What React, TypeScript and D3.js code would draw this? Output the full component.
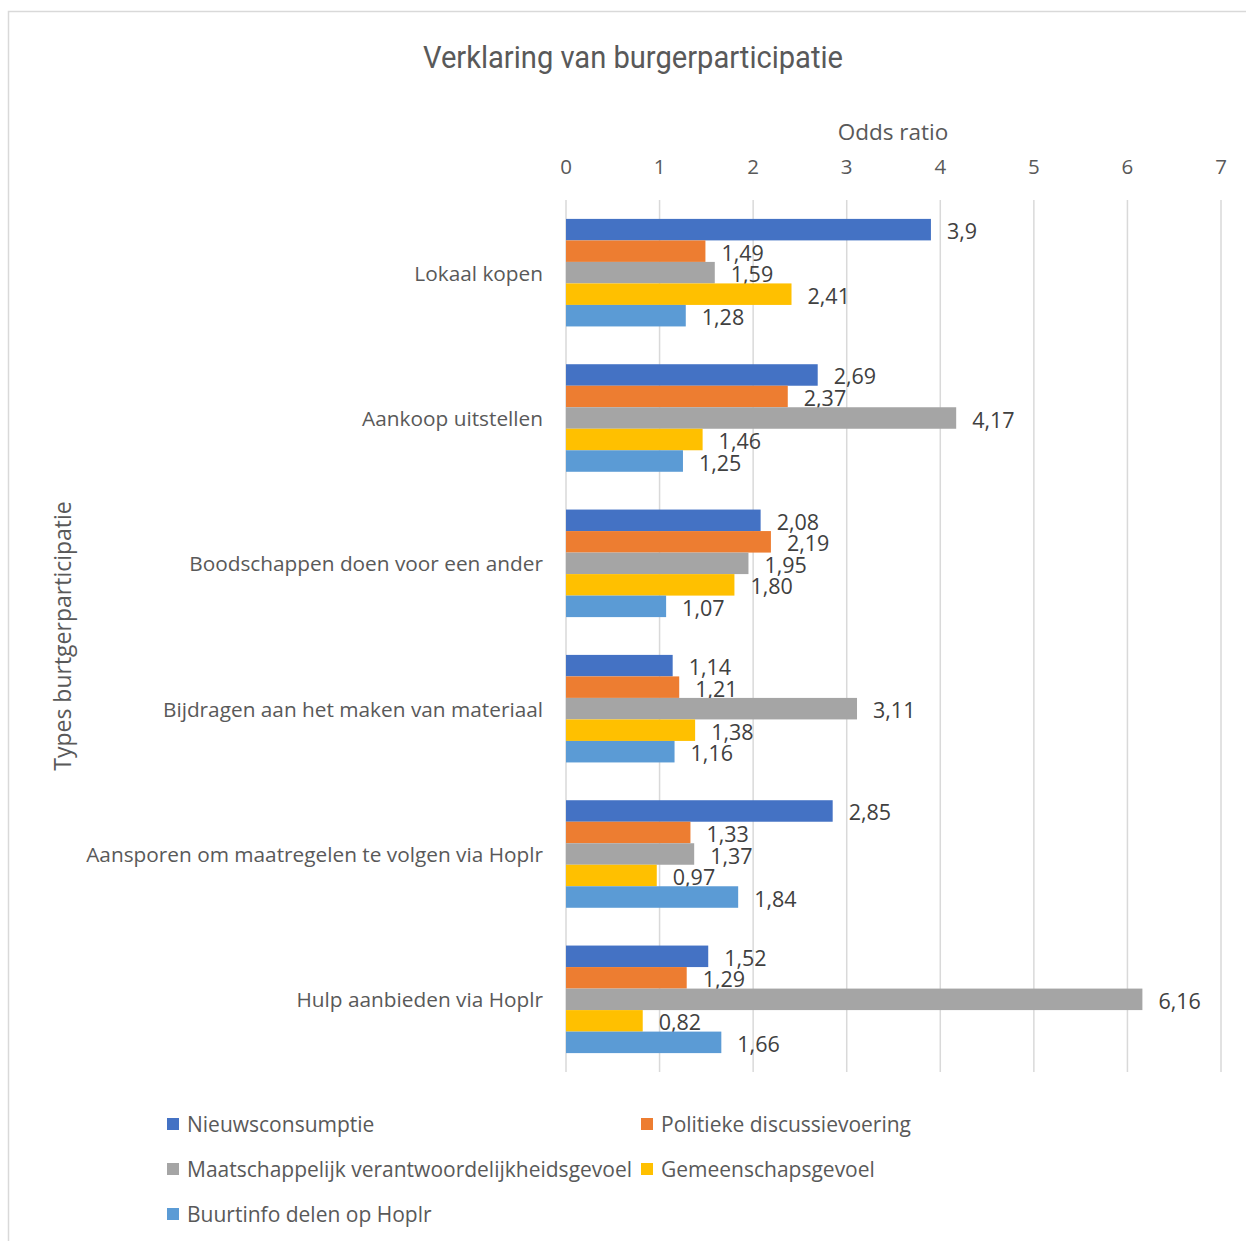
import React from "react";
import * as d3 from "d3";

const categories = [
  "Lokaal kopen",
  "Aankoop uitstellen",
  "Boodschappen doen voor een ander",
  "Bijdragen aan het maken van materiaal",
  "Aansporen om maatregelen te volgen via Hoplr",
  "Hulp aanbieden via Hoplr",
];

const seriesNames = [
  "Nieuwsconsumptie",
  "Politieke discussievoering",
  "Maatschappelijk verantwoordelijkheidsgevoel",
  "Gemeenschapsgevoel",
  "Buurtinfo delen op Hoplr",
];

const seriesColors = ["#4472C4", "#ED7D31", "#A5A5A5", "#FFC000", "#5B9BD5"];

// values per category, in series order
const nieuws = [3.9, 2.69, 2.08, 1.14, 2.85, 1.52];
const politiek = [1.49, 2.37, 2.19, 1.21, 1.33, 1.29];
const maatschappelijk = [1.59, 4.17, 1.95, 3.11, 1.37, 6.16];
const gemeenschap = [2.41, 1.46, 1.8, 1.38, 0.97, 0.82];
const buurtinfo = [1.28, 1.25, 1.07, 1.16, 1.84, 1.66];

const nieuwsLabels = ["3,9", "2,69", "2,08", "1,14", "2,85", "1,52"];
const politiekLabels = ["1,49", "2,37", "2,19", "1,21", "1,33", "1,29"];
const maatschappelijkLabels = ["1,59", "4,17", "1,95", "3,11", "1,37", "6,16"];
const gemeenschapLabels = ["2,41", "1,46", "1,80", "1,38", "0,97", "0,82"];
const buurtinfoLabels = ["1,28", "1,25", "1,07", "1,16", "1,84", "1,66"];

const xTicks = [0, 1, 2, 3, 4, 5, 6, 7];

const title = "Verklaring van burgerparticipatie";
const xTitle = "Odds ratio";
const yTitle = "Types burtgerparticipatie";

const seriesValues = [nieuws, politiek, maatschappelijk, gemeenschap, buurtinfo];
const seriesLabels = [nieuwsLabels, politiekLabels, maatschappelijkLabels, gemeenschapLabels, buurtinfoLabels];

const FONT = "'Open Sans', 'Noto Sans', sans-serif";
const TXT = "#595959";

export default function App() {
  const W = 1246;
  const H = 1241;
  const left = 566;
  const right = 1221;
  const top = 200;
  const bottom = 1072;

  const x = d3.scaleLinear().domain([0, 7]).range([left, right]);
  const y = d3.scaleBand().domain(categories).range([top, bottom]).paddingInner(0.26).paddingOuter(0.13);
  const inner = d3.scaleBand().domain(seriesNames).range([0, y.bandwidth()]);

  const legendItems = [
    { name: seriesNames[0], color: seriesColors[0], lx: 167, ly: 1124 },
    { name: seriesNames[1], color: seriesColors[1], lx: 641, ly: 1124 },
    { name: seriesNames[2], color: seriesColors[2], lx: 167, ly: 1169 },
    { name: seriesNames[3], color: seriesColors[3], lx: 641, ly: 1169 },
    { name: seriesNames[4], color: seriesColors[4], lx: 167, ly: 1214 },
  ];

  return (
    <svg
      width={W}
      height={H}
      style={{ position: "absolute", left: 0, top: 0, background: "#fff" }}
      fontFamily={FONT}
    >
      <rect x={8.5} y={11.5} width={1250} height={1250} fill="#fff" stroke="#d9d9d9" strokeWidth={1.5} />
      <text
        x={633}
        y={68}
        textAnchor="middle"
        fontSize={31}
        fill={TXT}
        fontFamily="Roboto, sans-serif"
        textLength={420}
        lengthAdjust="spacingAndGlyphs"
      >
        {title}
      </text>
      <text x={893} y={140} textAnchor="middle" fontSize={22.5} fill={TXT}>
        {xTitle}
      </text>
      {xTicks.map((t) => (
        <g key={t}>
          <line x1={x(t)} x2={x(t)} y1={top} y2={bottom} stroke="#d9d9d9" strokeWidth={1.5} />
          <text x={x(t)} y={174} textAnchor="middle" fontSize={20.5} fill={TXT}>
            {t}
          </text>
        </g>
      ))}
      {categories.map((c, ci) => (
        <g key={c}>
          <text
            x={543}
            y={(y(c) as number) + y.bandwidth() / 2}
            textAnchor="end"
            dominantBaseline="central"
            fontSize={20.8}
            fill={TXT}
          >
            {c}
          </text>
          {seriesNames.map((s, si) => {
            const v = seriesValues[si][ci];
            const by = (y(c) as number) + (inner(s) as number);
            const bh = inner.bandwidth();
            return (
              <g key={s}>
                <rect x={x(0)} y={by} width={x(v) - x(0)} height={bh} fill={seriesColors[si]} />
                <text
                  x={x(v) + 16}
                  y={by + bh / 2 + 1}
                  dominantBaseline="central"
                  fontSize={21.5}
                  fill="#404040"
                >
                  {seriesLabels[si][ci]}
                </text>
              </g>
            );
          })}
        </g>
      ))}
      <text
        transform={`translate(62,${(top + bottom) / 2}) rotate(-90)`}
        textAnchor="middle"
        dominantBaseline="central"
        fontSize={23}
        fill={TXT}
      >
        {yTitle}
      </text>
      {legendItems.map((l) => (
        <g key={l.name}>
          <rect x={l.lx} y={l.ly - 6} width={12} height={12} fill={l.color} />
          <text x={l.lx + 20} y={l.ly} dominantBaseline="central" fontSize={21} fill={TXT}>
            {l.name}
          </text>
        </g>
      ))}
    </svg>
  );
}
